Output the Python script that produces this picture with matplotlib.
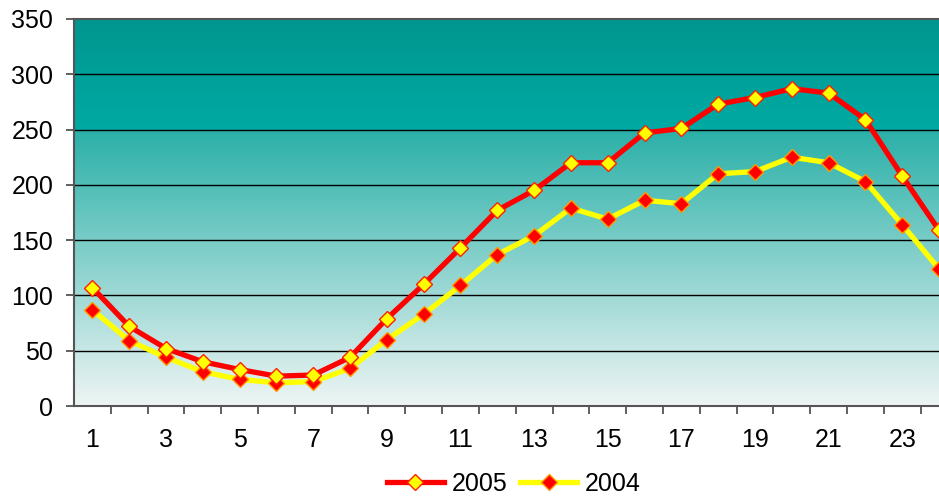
import matplotlib.pyplot as plt
import numpy as np

hours = list(range(1, 25))
tick_labels = [str(h) for h in range(1, 25, 2)]
y2005 = [107, 72, 52, 40, 33, 27, 28, 44, 79, 110, 143, 177, 195, 220,
         220, 247, 251, 273, 279, 287, 283, 259, 208, 159]
y2004 = [87, 59, 44, 31, 24, 21, 22, 34, 60, 83, 109, 137, 154, 179,
         169, 186, 183, 210, 212, 225, 220, 203, 164, 124]

plt.rcParams['font.family'] = ['Liberation Sans', 'DejaVu Sans']

fig = plt.figure(figsize=(9.39, 5.01), dpi=100)
ax = fig.add_axes([74 / 939, 95 / 501, 865 / 939, 387 / 501])

# background gradient: solid teal band above 250, fading to pale below
vals = np.linspace(0, 350, 400)
cols = np.zeros((len(vals), 3))
for i, v in enumerate(vals):
    if v >= 250:
        t = (v - 250) / 100
        c0, c1 = np.array([0, 170, 164]), np.array([0, 150, 143])
    else:
        t = v / 250
        c0, c1 = np.array([238, 245, 244]), np.array([42, 176, 168])
    cols[i] = (c0 + (c1 - c0) * t) / 255
img = cols[::-1][:, None, :]
ax.imshow(img, extent=[0.5, 24.0, 0, 350], aspect='auto', zorder=0,
          interpolation='bilinear')

ax.set_xlim(0.5, 24.0)
ax.set_ylim(0, 350)

for g in range(50, 350, 50):
    ax.axhline(g, color='black', lw=1.0, zorder=1)

ax.plot(hours, y2005, color='#FF0000', lw=3.8, marker='D', ms=8,
        mfc='#FFFF00', mec='#FF2000', mew=1.0, label='2005', zorder=3)
ax.plot(hours, y2004, color='#FFFF00', lw=3.8, marker='D', ms=8,
        mfc='#FF0000', mec='#FF9900', mew=1.0, label='2004', zorder=2)

ax.set_yticks(range(0, 351, 50))
ax.set_xticks(range(1, 25, 2))
ax.set_xticklabels(tick_labels)
ax.set_xticks(np.arange(1.5, 24, 1), minor=True)
ax.tick_params(axis='x', which='major', length=0, pad=16, labelsize=18)
ax.tick_params(axis='x', which='minor', length=6, width=1.2, color='#444444', direction='out')
ax.tick_params(axis='y', length=6, width=1.2, color='#444444', pad=9, labelsize=18)

for s in ['left', 'bottom', 'top']:
    ax.spines[s].set_color('#555555')
    ax.spines[s].set_linewidth(1.5)
ax.spines['right'].set_visible(False)

fig.legend(loc='lower center', bbox_to_anchor=(0.547, -0.035), ncol=2,
           frameon=False, fontsize=18, handlelength=2.3, columnspacing=0.5,
           handletextpad=0.3)

fig.savefig('out.png', dpi=100)
